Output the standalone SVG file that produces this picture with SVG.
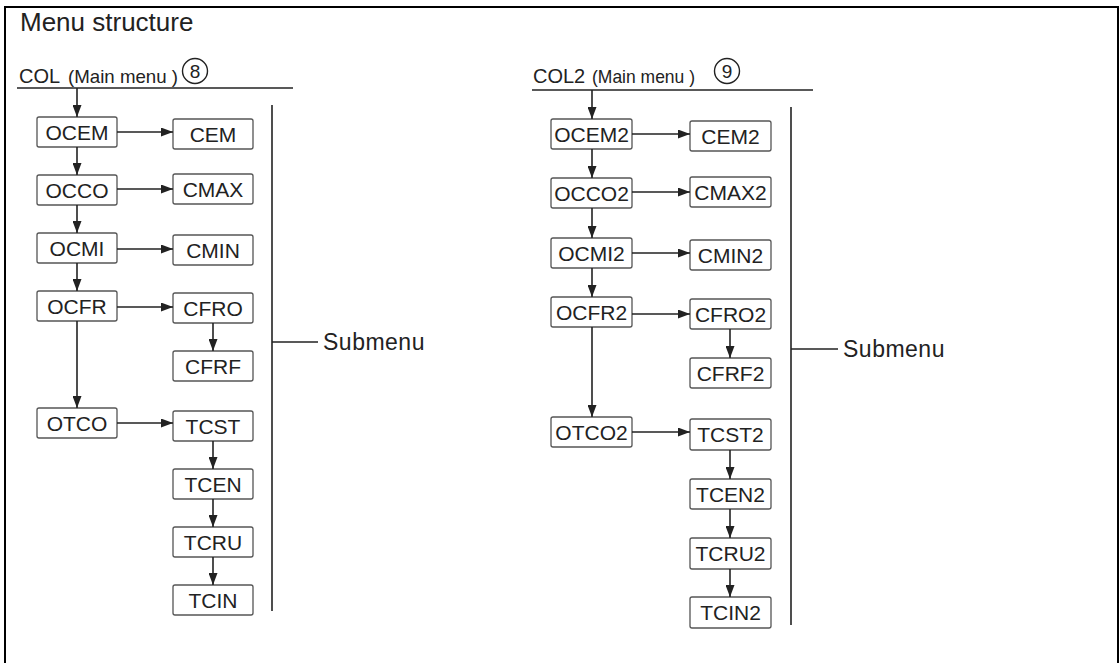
<svg xmlns="http://www.w3.org/2000/svg" width="1120" height="663" viewBox="0 0 1120 663">
<style>
.box rect{fill:#fff;stroke:#555;stroke-width:1.3}
.box text{font-family:"Liberation Sans",Arial,sans-serif;font-size:21px;fill:#222;text-anchor:middle}
.ln{stroke:#222;stroke-width:1.6;fill:none}
.arr{stroke:#222;stroke-width:1.6;fill:none;marker-end:url(#ah)}
.t{font-family:"Liberation Sans",Arial,sans-serif;fill:#222}
</style>
<defs>
<marker id="ah" viewBox="0 0 12 9" refX="12" refY="4.5" markerWidth="12" markerHeight="9" markerUnits="userSpaceOnUse" orient="auto">
<path d="M0,0 L12,4.5 L0,9 Z" fill="#222"/>
</marker>
</defs>
<rect x="5" y="7" width="1113" height="662" fill="#fff" stroke="#000" stroke-width="2"/>
<text class="t" x="20" y="31" font-size="26" fill="#000">Menu structure</text>

<g id="header-left">
<text class="t" x="19" y="83" font-size="20">COL</text>
<text class="t" x="68" y="83" font-size="19" textLength="110" lengthAdjust="spacingAndGlyphs">(Main menu )</text>
<circle cx="195" cy="71" r="12.5" fill="none" stroke="#222" stroke-width="1.4"/>
<text class="t" x="195" y="78" font-size="19" text-anchor="middle">8</text>
<line class="ln" x1="17" y1="88" x2="293" y2="88"/>
</g>

<g id="header-right">
<text class="t" x="533" y="83" font-size="20">COL2</text>
<text class="t" x="592" y="83" font-size="19" textLength="103" lengthAdjust="spacingAndGlyphs">(Main menu )</text>
<circle cx="727" cy="71" r="12.5" fill="none" stroke="#222" stroke-width="1.4"/>
<text class="t" x="727" y="78" font-size="19" text-anchor="middle">9</text>
<line class="ln" x1="532" y1="90" x2="813" y2="90"/>
</g>

<g id="OCEM" class="box"><rect x="37" y="117" width="80" height="30" rx="2"/><text x="77" y="140">OCEM</text></g>
<g id="CEM" class="box"><rect x="173" y="119" width="80" height="30" rx="2"/><text x="213" y="142">CEM</text></g>
<g id="OCCO" class="box"><rect x="37" y="175" width="80" height="30" rx="2"/><text x="77" y="198">OCCO</text></g>
<g id="CMAX" class="box"><rect x="173" y="174" width="80" height="30" rx="2"/><text x="213" y="197">CMAX</text></g>
<g id="OCMI" class="box"><rect x="37" y="233" width="80" height="30" rx="2"/><text x="77" y="256">OCMI</text></g>
<g id="CMIN" class="box"><rect x="173" y="235" width="80" height="30" rx="2"/><text x="213" y="258">CMIN</text></g>
<g id="OCFR" class="box"><rect x="37" y="291" width="80" height="30" rx="2"/><text x="77" y="314">OCFR</text></g>
<g id="CFRO" class="box"><rect x="173" y="293" width="80" height="30" rx="2"/><text x="213" y="316">CFRO</text></g>
<g id="CFRF" class="box"><rect x="173" y="351" width="80" height="30" rx="2"/><text x="213" y="374">CFRF</text></g>
<g id="OTCO" class="box"><rect x="37" y="408" width="80" height="30" rx="2"/><text x="77" y="431">OTCO</text></g>
<g id="TCST" class="box"><rect x="173" y="411" width="80" height="30" rx="2"/><text x="213" y="434">TCST</text></g>
<g id="TCEN" class="box"><rect x="173" y="469" width="80" height="30" rx="2"/><text x="213" y="492">TCEN</text></g>
<g id="TCRU" class="box"><rect x="173" y="527" width="80" height="30" rx="2"/><text x="213" y="550">TCRU</text></g>
<g id="TCIN" class="box"><rect x="173" y="585" width="80" height="30" rx="2"/><text x="213" y="608">TCIN</text></g>

<g id="OCEM2" class="box"><rect x="551" y="119" width="81" height="30" rx="2"/><text x="591.5" y="142">OCEM2</text></g>
<g id="CEM2" class="box"><rect x="690" y="121" width="81" height="30" rx="2"/><text x="730.5" y="144">CEM2</text></g>
<g id="OCCO2" class="box"><rect x="551" y="178" width="81" height="30" rx="2"/><text x="591.5" y="201">OCCO2</text></g>
<g id="CMAX2" class="box"><rect x="690" y="177" width="81" height="30" rx="2"/><text x="730.5" y="200">CMAX2</text></g>
<g id="OCMI2" class="box"><rect x="551" y="238" width="81" height="30" rx="2"/><text x="591.5" y="261">OCMI2</text></g>
<g id="CMIN2" class="box"><rect x="690" y="240" width="81" height="30" rx="2"/><text x="730.5" y="263">CMIN2</text></g>
<g id="OCFR2" class="box"><rect x="551" y="297" width="81" height="30" rx="2"/><text x="591.5" y="320">OCFR2</text></g>
<g id="CFRO2" class="box"><rect x="690" y="299" width="81" height="30" rx="2"/><text x="730.5" y="322">CFRO2</text></g>
<g id="CFRF2" class="box"><rect x="690" y="358" width="81" height="30" rx="2"/><text x="730.5" y="381">CFRF2</text></g>
<g id="OTCO2" class="box"><rect x="551" y="417" width="81" height="30" rx="2"/><text x="591.5" y="440">OTCO2</text></g>
<g id="TCST2" class="box"><rect x="690" y="419" width="81" height="31" rx="2"/><text x="730.5" y="442">TCST2</text></g>
<g id="TCEN2" class="box"><rect x="690" y="479" width="81" height="30" rx="2"/><text x="730.5" y="502">TCEN2</text></g>
<g id="TCRU2" class="box"><rect x="690" y="538" width="81" height="31" rx="2"/><text x="730.5" y="561">TCRU2</text></g>
<g id="TCIN2" class="box"><rect x="690" y="597" width="81" height="31" rx="2"/><text x="730.5" y="620">TCIN2</text></g>

<g id="submenu-left">
<line class="ln" x1="272" y1="105" x2="272" y2="611"/>
<line class="ln" x1="272" y1="342" x2="318" y2="342"/>
<text class="t" x="323" y="350" font-size="23" letter-spacing="0.5">Submenu</text>
</g>
<g id="submenu-right">
<line class="ln" x1="791" y1="107" x2="791" y2="625"/>
<line class="ln" x1="791" y1="349" x2="838" y2="349"/>
<text class="t" x="843" y="357" font-size="23" letter-spacing="0.5">Submenu</text>
</g>

<g id="connectors">
<line class="arr" x1="77" y1="88" x2="77" y2="117"/>
<line class="arr" x1="77" y1="147" x2="77" y2="175"/>
<line class="arr" x1="77" y1="205" x2="77" y2="233"/>
<line class="arr" x1="77" y1="263" x2="77" y2="291"/>
<line class="arr" x1="77" y1="321" x2="77" y2="408"/>
<line class="arr" x1="117" y1="132" x2="173" y2="132"/>
<line class="arr" x1="117" y1="189" x2="173" y2="189"/>
<line class="arr" x1="117" y1="249" x2="173" y2="249"/>
<line class="arr" x1="117" y1="307" x2="173" y2="307"/>
<line class="arr" x1="117" y1="423" x2="173" y2="423"/>
<line class="arr" x1="213" y1="323" x2="213" y2="351"/>
<line class="arr" x1="213" y1="441" x2="213" y2="469"/>
<line class="arr" x1="213" y1="499" x2="213" y2="527"/>
<line class="arr" x1="213" y1="557" x2="213" y2="585"/>

<line class="arr" x1="592" y1="90" x2="592" y2="119"/>
<line class="arr" x1="592" y1="149" x2="592" y2="178"/>
<line class="arr" x1="592" y1="208" x2="592" y2="238"/>
<line class="arr" x1="592" y1="268" x2="592" y2="297"/>
<line class="arr" x1="592" y1="327" x2="592" y2="417"/>
<line class="arr" x1="632" y1="134" x2="690" y2="134"/>
<line class="arr" x1="632" y1="192" x2="690" y2="192"/>
<line class="arr" x1="632" y1="253" x2="690" y2="253"/>
<line class="arr" x1="632" y1="314" x2="690" y2="314"/>
<line class="arr" x1="632" y1="432" x2="690" y2="432"/>
<line class="arr" x1="730" y1="329" x2="730" y2="358"/>
<line class="arr" x1="730" y1="450" x2="730" y2="479"/>
<line class="arr" x1="730" y1="509" x2="730" y2="538"/>
<line class="arr" x1="730" y1="569" x2="730" y2="597"/>
</g>
</svg>
